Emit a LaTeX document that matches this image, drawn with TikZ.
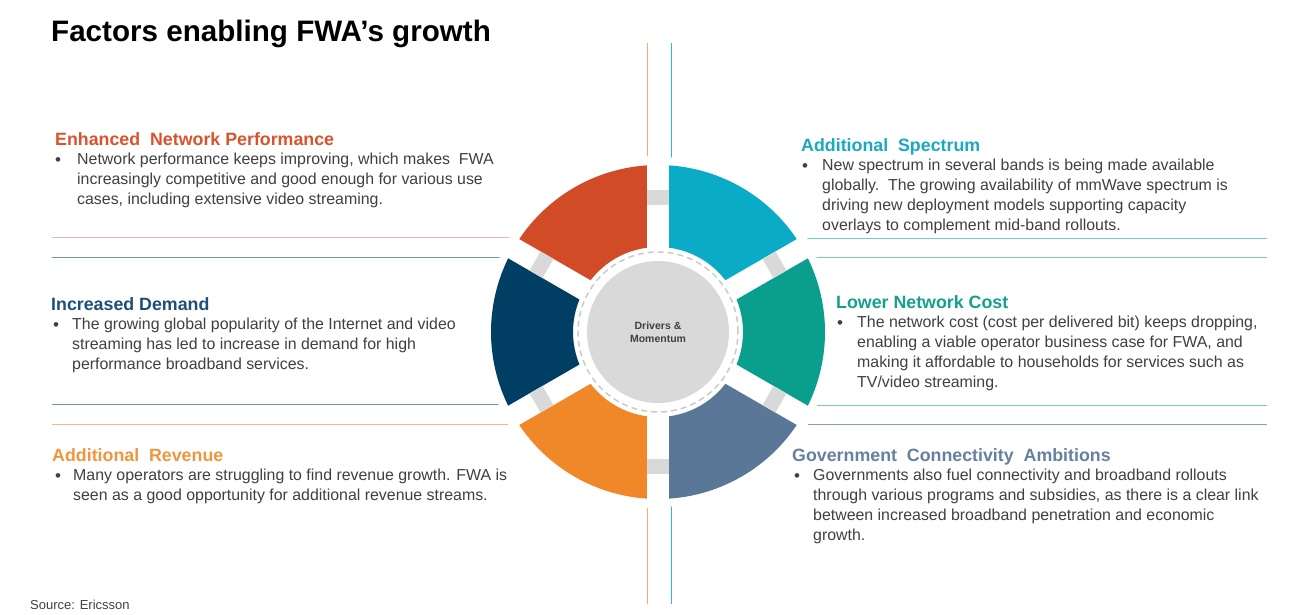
\documentclass[tikz,border=0pt]{standalone}
\usepackage{fontspec}
\setmainfont{Liberation Sans}
\usetikzlibrary{calc}
\definecolor{cRed}{HTML}{D24B27}
\definecolor{cNavy}{HTML}{003F63}
\definecolor{cOrange}{HTML}{F0882A}
\definecolor{cCyan}{HTML}{0AABC6}
\definecolor{cTeal}{HTML}{0A9E8C}
\definecolor{cSlate}{HTML}{5B7797}
\definecolor{hRed}{HTML}{D9532E}
\definecolor{hNavy}{HTML}{1F4E79}
\definecolor{hOrange}{HTML}{F0963C}
\definecolor{hCyan}{HTML}{1AA9C0}
\definecolor{hTeal}{HTML}{14A08C}
\definecolor{hSlate}{HTML}{6680A0}
\definecolor{txt}{HTML}{404040}
\definecolor{ring}{HTML}{D9D9D9}
\tikzset{
  head/.style={anchor=base west,inner sep=0pt,font=\fontsize{17.8}{20}\selectfont\bfseries},
  body/.style={anchor=north west,inner sep=0pt,align=left,text=txt,font=\fontsize{15.9}{20}\selectfont},
  bul/.style={anchor=center,inner sep=0pt,text=txt,font=\fontsize{17}{20}\selectfont},
  rule/.style={line width=0.8pt}
}
\begin{document}
\begin{tikzpicture}[x=1pt,y=1pt]
\useasboundingbox (0,0) rectangle (1300,-615);
\fill[white] (0,0) rectangle (1300,-615);
% title
\node[anchor=base west,inner sep=0pt,font=\fontsize{29.6}{30}\selectfont\bfseries] (title) at (51,-42) {Factors enabling FWA's growth};
\node[anchor=base west,inner sep=0pt,text=txt,font=\fontsize{13}{14}\selectfont] (src) at (30,-609) {Source: Ericsson};
% rules
\draw[rule,cOrange!70] (647,-43) -- (647,-604);
\draw[rule,cCyan!85] (671,-43) -- (671,-604);
\draw[rule,cRed!40] (52,-237) -- (520,-237);
\draw[rule,cNavy!55] (52,-257) -- (510,-257);
\draw[rule,cNavy!55] (52,-404) -- (510,-404);
\draw[rule,cOrange!60] (52,-424) -- (520,-424);
\draw[rule,cCyan!60] (797,-238) -- (1267,-238);
\draw[rule,cTeal!55] (808,-257) -- (1267,-257);
\draw[rule,cTeal!55] (808,-405) -- (1267,-405);
\draw[rule,cSlate!70] (797,-424) -- (1267,-424);
% wheel
\coordinate (C) at (658,-332);
\fill[white] (C) circle (175);
\foreach \a/\c in {30/cCyan,90/cRed,150/cNavy,210/cOrange,270/cSlate,330/cTeal}{
  \fill[\c] ($(C)+(\a:85)$) arc[start angle=\a,end angle=\a+60,radius=85]
    -- ($(C)+(\a+60:167)$) arc[start angle=\a+60,end angle=\a,radius=167] -- cycle;
}
\foreach \a in {30,90,150,210,270,330}{
  \draw[white,line width=22pt] ($(C)+(\a:78)$) -- ($(C)+(\a:176)$);
  \draw[ring,line width=22pt] ($(C)+(\a:127)$) -- ($(C)+(\a:142)$);
}
\draw[ring!85!gray,line width=1.5pt,dash pattern=on 6pt off 4pt] (C) circle (80);
\fill[ring] (C) circle (71);
\node[align=center,text=txt,font=\fontsize{10.5}{13}\selectfont\bfseries] (ctr) at (C) {Drivers \&\\Momentum};
% left texts
\node[head,text=hRed] (h1) at (55,-145) {Enhanced\ \ Network Performance};
\node[bul] (b1) at (58,-162) {•};
\node[body] (t1) at (77,-153) {Network performance keeps improving, which makes\ \ FWA\\increasingly competitive and good enough for various use\\cases, including extensive video streaming.};
\node[head,text=hNavy] (h2) at (51,-310) {Increased Demand};
\node[bul] (b2) at (56,-327) {•};
\node[body] (t2) at (72,-318) {The growing global popularity of the Internet and video\\streaming has led to increase in demand for high\\performance broadband services.};
\node[head,text=hOrange] (h3) at (52,-461) {Additional\ \ Revenue};
\node[bul] (b3) at (58,-478) {•};
\node[body] (t3) at (73,-469) {Many operators are struggling to find revenue growth. FWA is\\seen as a good opportunity for additional revenue streams.};
% right texts
\node[head,text=hCyan] (h4) at (801,-151) {Additional\ \ Spectrum};
\node[bul] (b4) at (805,-168) {•};
\node[body] (t4) at (822,-159) {New spectrum in several bands is being made available\\globally.\ \ The growing availability of mmWave spectrum is\\driving new deployment models supporting capacity\\overlays to complement mid-band rollouts.};
\node[head,text=hTeal] (h5) at (836,-308) {Lower Network Cost};
\node[bul] (b5) at (840,-325) {•};
\node[body] (t5) at (857,-316) {The network cost (cost per delivered bit) keeps dropping,\\enabling a viable operator business case for FWA, and\\making it affordable to households for services such as\\TV/video streaming.};
\node[head,text=hSlate] (h6) at (792,-461) {Government\ \ Connectivity\ \ Ambitions};
\node[bul] (b6) at (797,-478) {•};
\node[body] (t6) at (813,-469) {Governments also fuel connectivity and broadband rollouts\\through various programs and subsidies, as there is a clear link\\between increased broadband penetration and economic\\growth.};
\end{tikzpicture}
\end{document}
